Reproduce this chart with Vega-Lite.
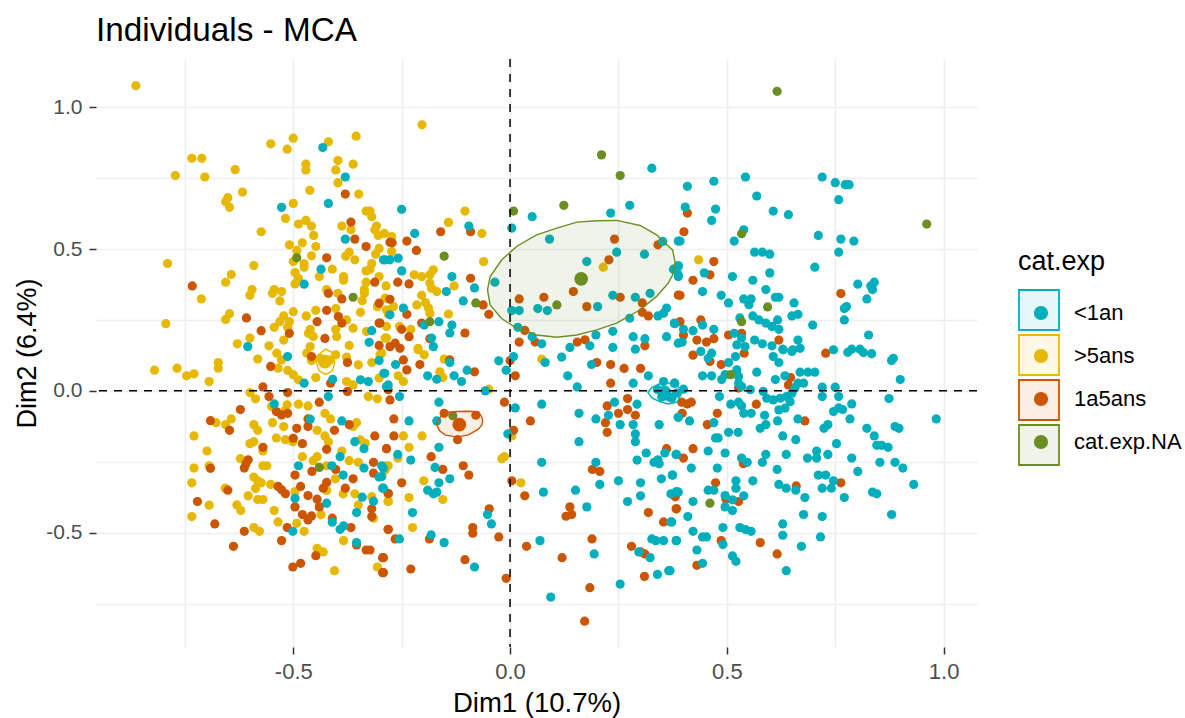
{"$schema":"https://vega.github.io/schema/vega-lite/v6.json","width":881,"height":588,"autosize":"none","padding":{"left":96,"top":59,"right":208,"bottom":71},"background":"white",
"title":{"text":"Individuals - MCA","anchor":"start","frame":"group","font":"Liberation Sans","fontSize":33.3,"fontWeight":"normal","color":"#000000","offset":10},
"config":{"view":{"stroke":null},"font":"Liberation Sans"},
"layer":[
{"data":{"values":[
{"x":-0.863,"y":1.076,"c":">5ans"},{"x":-0.552,"y":0.871,"c":">5ans"},{"x":-0.5,"y":0.891,"c":">5ans"},{"x":-0.514,"y":0.852,"c":">5ans"},{"x":-0.419,"y":0.878,"c":">5ans"},{"x":-0.355,"y":0.898,"c":">5ans"},{"x":-0.734,"y":0.82,"c":">5ans"},{"x":-0.711,"y":0.82,"c":">5ans"},{"x":-0.634,"y":0.78,"c":">5ans"},{"x":-0.772,"y":0.759,"c":">5ans"},{"x":-0.704,"y":0.754,"c":">5ans"},{"x":-0.471,"y":0.799,"c":">5ans"},{"x":-0.471,"y":0.779,"c":">5ans"},{"x":-0.397,"y":0.812,"c":">5ans"},{"x":-0.402,"y":0.779,"c":">5ans"},{"x":-0.362,"y":0.799,"c":">5ans"},{"x":-0.397,"y":0.734,"c":">5ans"},{"x":-0.617,"y":0.701,"c":">5ans"},{"x":-0.651,"y":0.681,"c":">5ans"},{"x":-0.656,"y":0.667,"c":">5ans"},{"x":-0.647,"y":0.647,"c":">5ans"},{"x":-0.462,"y":0.707,"c":">5ans"},{"x":-0.349,"y":0.694,"c":">5ans"},{"x":-0.5,"y":0.661,"c":">5ans"},{"x":-0.518,"y":0.608,"c":">5ans"},{"x":-0.574,"y":0.561,"c":">5ans"},{"x":-0.488,"y":0.588,"c":">5ans"},{"x":-0.471,"y":0.601,"c":">5ans"},{"x":-0.458,"y":0.581,"c":">5ans"},{"x":-0.453,"y":0.548,"c":">5ans"},{"x":-0.388,"y":0.581,"c":">5ans"},{"x":-0.367,"y":0.568,"c":">5ans"},{"x":-0.332,"y":0.634,"c":">5ans"},{"x":-0.323,"y":0.634,"c":">5ans"},{"x":-0.319,"y":0.614,"c":">5ans"},{"x":-0.308,"y":0.581,"c":">5ans"},{"x":-0.312,"y":0.568,"c":">5ans"},{"x":-0.29,"y":0.555,"c":">5ans"},{"x":-0.304,"y":0.548,"c":">5ans"},{"x":-0.479,"y":0.522,"c":">5ans"},{"x":-0.509,"y":0.515,"c":">5ans"},{"x":-0.448,"y":0.509,"c":">5ans"},{"x":-0.458,"y":0.476,"c":">5ans"},{"x":-0.492,"y":0.495,"c":">5ans"},{"x":-0.371,"y":0.489,"c":">5ans"},{"x":-0.379,"y":0.475,"c":">5ans"},{"x":-0.358,"y":0.462,"c":">5ans"},{"x":-0.302,"y":0.502,"c":">5ans"},{"x":-0.31,"y":0.482,"c":">5ans"},{"x":-0.319,"y":0.449,"c":">5ans"},{"x":-0.332,"y":0.423,"c":">5ans"},{"x":-0.323,"y":0.429,"c":">5ans"},{"x":-0.79,"y":0.449,"c":">5ans"},{"x":-0.591,"y":0.442,"c":">5ans"},{"x":-0.5,"y":0.456,"c":">5ans"},{"x":-0.475,"y":0.449,"c":">5ans"},{"x":-0.475,"y":0.436,"c":">5ans"},{"x":-0.496,"y":0.417,"c":">5ans"},{"x":-0.488,"y":0.397,"c":">5ans"},{"x":-0.496,"y":0.377,"c":">5ans"},{"x":-0.41,"y":0.429,"c":">5ans"},{"x":-0.44,"y":0.403,"c":">5ans"},{"x":-0.384,"y":0.403,"c":">5ans"},{"x":-0.384,"y":0.39,"c":">5ans"},{"x":-0.643,"y":0.41,"c":">5ans"},{"x":-0.656,"y":0.383,"c":">5ans"},{"x":-0.302,"y":0.403,"c":">5ans"},{"x":-0.332,"y":0.383,"c":">5ans"},{"x":-0.336,"y":0.357,"c":">5ans"},{"x":-0.336,"y":0.344,"c":">5ans"},{"x":-0.286,"y":0.37,"c":">5ans"},{"x":-0.423,"y":0.357,"c":">5ans"},{"x":-0.397,"y":0.344,"c":">5ans"},{"x":-0.341,"y":0.318,"c":">5ans"},{"x":-0.595,"y":0.357,"c":">5ans"},{"x":-0.6,"y":0.337,"c":">5ans"},{"x":-0.544,"y":0.357,"c":">5ans"},{"x":-0.527,"y":0.35,"c":">5ans"},{"x":-0.548,"y":0.344,"c":">5ans"},{"x":-0.531,"y":0.317,"c":">5ans"},{"x":-0.712,"y":0.324,"c":">5ans"},{"x":-0.288,"y":0.327,"c":">5ans"},{"x":-0.306,"y":0.297,"c":">5ans"},{"x":-0.285,"y":0.286,"c":">5ans"},{"x":-0.5,"y":0.279,"c":">5ans"},{"x":-0.647,"y":0.272,"c":">5ans"},{"x":-0.656,"y":0.252,"c":">5ans"},{"x":-0.522,"y":0.264,"c":">5ans"},{"x":-0.47,"y":0.264,"c":">5ans"},{"x":-0.448,"y":0.284,"c":">5ans"},{"x":-0.402,"y":0.29,"c":">5ans"},{"x":-0.345,"y":0.277,"c":">5ans"},{"x":-0.794,"y":0.237,"c":">5ans"},{"x":-0.531,"y":0.244,"c":">5ans"},{"x":-0.509,"y":0.244,"c":">5ans"},{"x":-0.513,"y":0.224,"c":">5ans"},{"x":-0.544,"y":0.224,"c":">5ans"},{"x":-0.461,"y":0.217,"c":">5ans"},{"x":-0.454,"y":0.192,"c":">5ans"},{"x":-0.465,"y":0.203,"c":">5ans"},{"x":-0.402,"y":0.217,"c":">5ans"},{"x":-0.377,"y":0.25,"c":">5ans"},{"x":-0.362,"y":0.221,"c":">5ans"},{"x":-0.331,"y":0.209,"c":">5ans"},{"x":-0.4,"y":0.192,"c":">5ans"},{"x":-0.6,"y":0.186,"c":">5ans"},{"x":-0.629,"y":0.166,"c":">5ans"},{"x":-0.556,"y":0.159,"c":">5ans"},{"x":-0.522,"y":0.179,"c":">5ans"},{"x":-0.461,"y":0.156,"c":">5ans"},{"x":-0.371,"y":0.16,"c":">5ans"},{"x":-0.285,"y":0.186,"c":">5ans"},
{"x":-0.582,"y":0.112,"c":">5ans"},{"x":-0.538,"y":0.133,"c":">5ans"},{"x":-0.527,"y":0.109,"c":">5ans"},{"x":-0.535,"y":0.08,"c":">5ans"},{"x":-0.513,"y":0.072,"c":">5ans"},{"x":-0.5,"y":0.057,"c":">5ans"},{"x":-0.488,"y":0.039,"c":">5ans"},{"x":-0.448,"y":0.047,"c":">5ans"},{"x":-0.82,"y":0.073,"c":">5ans"},{"x":-0.768,"y":0.08,"c":">5ans"},{"x":-0.746,"y":0.053,"c":">5ans"},{"x":-0.729,"y":0.06,"c":">5ans"},{"x":-0.673,"y":0.1,"c":">5ans"},{"x":-0.673,"y":0.08,"c":">5ans"},{"x":-0.694,"y":0.033,"c":">5ans"},{"x":-0.469,"y":0.133,"c":">5ans"},{"x":-0.458,"y":0.107,"c":">5ans"},{"x":-0.438,"y":0.115,"c":">5ans"},{"x":-0.427,"y":0.098,"c":">5ans"},{"x":-0.415,"y":0.109,"c":">5ans"},{"x":-0.402,"y":0.127,"c":">5ans"},{"x":-0.377,"y":0.119,"c":">5ans"},{"x":-0.35,"y":0.092,"c":">5ans"},{"x":-0.319,"y":0.1,"c":">5ans"},{"x":-0.3,"y":0.127,"c":">5ans"},{"x":-0.302,"y":0.045,"c":">5ans"},{"x":-0.377,"y":0.033,"c":">5ans"},{"x":-0.362,"y":0.021,"c":">5ans"},{"x":-0.327,"y":-0.02,"c":">5ans"},{"x":-0.306,"y":-0.028,"c":">5ans"},{"x":-0.6,"y":-0.006,"c":">5ans"},{"x":-0.587,"y":-0.028,"c":">5ans"},{"x":-0.55,"y":-0.055,"c":">5ans"},{"x":-0.514,"y":-0.049,"c":">5ans"},{"x":-0.519,"y":-0.069,"c":">5ans"},{"x":-0.488,"y":-0.047,"c":">5ans"},{"x":-0.466,"y":-0.053,"c":">5ans"},{"x":-0.643,"y":-0.099,"c":">5ans"},{"x":-0.656,"y":-0.119,"c":">5ans"},{"x":-0.678,"y":-0.112,"c":">5ans"},{"x":-0.548,"y":-0.112,"c":">5ans"},{"x":-0.591,"y":-0.119,"c":">5ans"},{"x":-0.582,"y":-0.139,"c":">5ans"},{"x":-0.522,"y":-0.126,"c":">5ans"},{"x":-0.427,"y":-0.079,"c":">5ans"},{"x":-0.414,"y":-0.099,"c":">5ans"},{"x":-0.445,"y":-0.139,"c":">5ans"},{"x":-0.427,"y":-0.159,"c":">5ans"},{"x":-0.419,"y":-0.179,"c":">5ans"},{"x":-0.354,"y":-0.112,"c":">5ans"},{"x":-0.362,"y":-0.126,"c":">5ans"},{"x":-0.729,"y":-0.159,"c":">5ans"},{"x":-0.539,"y":-0.166,"c":">5ans"},{"x":-0.518,"y":-0.172,"c":">5ans"},{"x":-0.501,"y":-0.179,"c":">5ans"},{"x":-0.591,"y":-0.179,"c":">5ans"},{"x":-0.6,"y":-0.186,"c":">5ans"},{"x":-0.699,"y":-0.212,"c":">5ans"},{"x":-0.57,"y":-0.212,"c":">5ans"},{"x":-0.622,"y":-0.239,"c":">5ans"},{"x":-0.479,"y":-0.232,"c":">5ans"},{"x":-0.445,"y":-0.232,"c":">5ans"},{"x":-0.454,"y":-0.246,"c":">5ans"},{"x":-0.388,"y":-0.212,"c":">5ans"},{"x":-0.371,"y":-0.246,"c":">5ans"},{"x":-0.35,"y":-0.252,"c":">5ans"},{"x":-0.345,"y":-0.173,"c":">5ans"},{"x":-0.334,"y":-0.185,"c":">5ans"},{"x":-0.729,"y":-0.272,"c":">5ans"},{"x":-0.694,"y":-0.264,"c":">5ans"},{"x":-0.57,"y":-0.264,"c":">5ans"},{"x":-0.561,"y":-0.264,"c":">5ans"},{"x":-0.423,"y":-0.264,"c":">5ans"},{"x":-0.734,"y":-0.324,"c":">5ans"},{"x":-0.591,"y":-0.304,"c":">5ans"},{"x":-0.582,"y":-0.317,"c":">5ans"},{"x":-0.574,"y":-0.324,"c":">5ans"},{"x":-0.587,"y":-0.344,"c":">5ans"},{"x":-0.552,"y":-0.33,"c":">5ans"},{"x":-0.403,"y":-0.31,"c":">5ans"},{"x":-0.657,"y":-0.343,"c":">5ans"},{"x":-0.604,"y":-0.37,"c":">5ans"},{"x":-0.582,"y":-0.383,"c":">5ans"},{"x":-0.57,"y":-0.383,"c":">5ans"},{"x":-0.694,"y":-0.403,"c":">5ans"},{"x":-0.63,"y":-0.402,"c":">5ans"},{"x":-0.621,"y":-0.422,"c":">5ans"},{"x":-0.544,"y":-0.422,"c":">5ans"},{"x":-0.496,"y":-0.355,"c":">5ans"},{"x":-0.423,"y":-0.351,"c":">5ans"},{"x":-0.385,"y":-0.363,"c":">5ans"},{"x":-0.358,"y":-0.363,"c":">5ans"},{"x":-0.35,"y":-0.402,"c":">5ans"},{"x":-0.319,"y":-0.373,"c":">5ans"},{"x":-0.285,"y":-0.264,"c":">5ans"},{"x":-0.281,"y":-0.39,"c":">5ans"},{"x":-0.734,"y":-0.443,"c":">5ans"},{"x":-0.535,"y":-0.462,"c":">5ans"},{"x":-0.492,"y":-0.467,"c":">5ans"},{"x":-0.436,"y":-0.437,"c":">5ans"},{"x":-0.315,"y":-0.449,"c":">5ans"},{"x":-0.591,"y":-0.482,"c":">5ans"},{"x":-0.578,"y":-0.495,"c":">5ans"},{"x":-0.475,"y":-0.495,"c":">5ans"},{"x":-0.384,"y":-0.528,"c":">5ans"},{"x":-0.445,"y":-0.555,"c":">5ans"},{"x":-0.431,"y":-0.568,"c":">5ans"},{"x":-0.405,"y":-0.634,"c":">5ans"},{"x":-0.306,"y":-0.621,"c":">5ans"},
{"x":-0.203,"y":0.938,"c":">5ans"},{"x":-0.104,"y":0.634,"c":">5ans"},{"x":-0.142,"y":0.594,"c":">5ans"},{"x":-0.065,"y":0.555,"c":">5ans"},{"x":-0.273,"y":0.544,"c":">5ans"},{"x":-0.273,"y":0.491,"c":">5ans"},{"x":-0.061,"y":0.456,"c":">5ans"},{"x":-0.177,"y":0.427,"c":">5ans"},{"x":-0.185,"y":0.409,"c":">5ans"},{"x":-0.221,"y":0.409,"c":">5ans"},{"x":-0.204,"y":0.403,"c":">5ans"},{"x":-0.185,"y":0.38,"c":">5ans"},{"x":-0.181,"y":0.362,"c":">5ans"},{"x":-0.169,"y":0.35,"c":">5ans"},{"x":-0.129,"y":0.37,"c":">5ans"},{"x":-0.204,"y":0.337,"c":">5ans"},{"x":-0.195,"y":0.311,"c":">5ans"},{"x":-0.215,"y":0.303,"c":">5ans"},{"x":-0.188,"y":0.292,"c":">5ans"},{"x":-0.185,"y":0.274,"c":">5ans"},{"x":-0.142,"y":0.271,"c":">5ans"},{"x":-0.269,"y":0.297,"c":">5ans"},{"x":-0.281,"y":0.271,"c":">5ans"},{"x":-0.229,"y":0.217,"c":">5ans"},{"x":-0.255,"y":0.227,"c":">5ans"},{"x":-0.285,"y":0.227,"c":">5ans"},{"x":-0.288,"y":0.186,"c":">5ans"},{"x":-0.212,"y":0.15,"c":">5ans"},{"x":0.215,"y":0.436,"c":">5ans"},
{"x":-0.212,"y":0.145,"c":">5ans"},{"x":-0.198,"y":0.127,"c":">5ans"},{"x":-0.152,"y":0.112,"c":">5ans"},{"x":0.073,"y":0.112,"c":">5ans"},{"x":-0.162,"y":0.067,"c":">5ans"},{"x":-0.155,"y":0.047,"c":">5ans"},{"x":-0.258,"y":0.053,"c":">5ans"},{"x":-0.246,"y":0.033,"c":">5ans"},{"x":-0.296,"y":0.133,"c":">5ans"},{"x":-0.049,"y":0.006,"c":">5ans"},{"x":-0.246,"y":-0.159,"c":">5ans"},{"x":-0.203,"y":-0.159,"c":">5ans"},{"x":0.004,"y":-0.159,"c":">5ans"},{"x":-0.233,"y":-0.199,"c":">5ans"},{"x":-0.259,"y":-0.237,"c":">5ans"},{"x":-0.013,"y":-0.232,"c":">5ans"},{"x":-0.019,"y":-0.239,"c":">5ans"},{"x":-0.281,"y":-0.264,"c":">5ans"},{"x":-0.288,"y":-0.279,"c":">5ans"},{"x":-0.199,"y":-0.317,"c":">5ans"},{"x":0.025,"y":-0.324,"c":">5ans"},{"x":-0.233,"y":-0.376,"c":">5ans"},{"x":-0.281,"y":-0.39,"c":">5ans"},{"x":-0.155,"y":-0.383,"c":">5ans"},{"x":-0.225,"y":-0.482,"c":">5ans"},{"x":0.435,"y":0.462,"c":">5ans"},
{"x":-0.38,"y":0.694,"c":"1a5ans"},{"x":-0.367,"y":0.595,"c":"1a5ans"},{"x":-0.358,"y":0.535,"c":"1a5ans"},{"x":-0.332,"y":0.509,"c":"1a5ans"},{"x":-0.423,"y":0.469,"c":"1a5ans"},{"x":-0.733,"y":0.37,"c":"1a5ans"},{"x":-0.312,"y":0.383,"c":"1a5ans"},{"x":-0.419,"y":0.344,"c":"1a5ans"},{"x":-0.388,"y":0.324,"c":"1a5ans"},{"x":-0.302,"y":0.309,"c":"1a5ans"},{"x":-0.423,"y":0.284,"c":"1a5ans"},{"x":-0.608,"y":0.257,"c":"1a5ans"},{"x":-0.445,"y":0.244,"c":"1a5ans"},{"x":-0.396,"y":0.262,"c":"1a5ans"},{"x":-0.388,"y":0.239,"c":"1a5ans"},{"x":-0.574,"y":0.212,"c":"1a5ans"},{"x":-0.509,"y":0.203,"c":"1a5ans"},{"x":-0.427,"y":0.185,"c":"1a5ans"},{"x":-0.302,"y":0.239,"c":"1a5ans"},{"x":-0.302,"y":0.16,"c":"1a5ans"},{"x":-0.277,"y":0.524,"c":"1a5ans"},
{"x":-0.552,"y":0.086,"c":"1a5ans"},{"x":-0.458,"y":0.121,"c":"1a5ans"},{"x":-0.375,"y":0.1,"c":"1a5ans"},{"x":-0.414,"y":0.027,"c":"1a5ans"},{"x":-0.375,"y":-0.002,"c":"1a5ans"},{"x":-0.513,"y":-0.006,"c":"1a5ans"},{"x":-0.57,"y":0.014,"c":"1a5ans"},{"x":-0.556,"y":-0.02,"c":"1a5ans"},{"x":-0.622,"y":-0.066,"c":"1a5ans"},{"x":-0.539,"y":-0.073,"c":"1a5ans"},{"x":-0.527,"y":-0.085,"c":"1a5ans"},{"x":-0.513,"y":-0.079,"c":"1a5ans"},{"x":-0.44,"y":-0.04,"c":"1a5ans"},{"x":-0.691,"y":-0.105,"c":"1a5ans"},{"x":-0.647,"y":-0.139,"c":"1a5ans"},{"x":-0.466,"y":-0.099,"c":"1a5ans"},{"x":-0.466,"y":-0.126,"c":"1a5ans"},{"x":-0.492,"y":-0.132,"c":"1a5ans"},{"x":-0.405,"y":-0.139,"c":"1a5ans"},{"x":-0.371,"y":-0.119,"c":"1a5ans"},{"x":-0.312,"y":-0.159,"c":"1a5ans"},{"x":-0.5,"y":-0.167,"c":"1a5ans"},{"x":-0.479,"y":-0.186,"c":"1a5ans"},{"x":-0.57,"y":-0.199,"c":"1a5ans"},{"x":-0.423,"y":-0.206,"c":"1a5ans"},{"x":-0.285,"y":-0.204,"c":"1a5ans"},{"x":-0.604,"y":-0.243,"c":"1a5ans"},{"x":-0.609,"y":-0.257,"c":"1a5ans"},{"x":-0.613,"y":-0.272,"c":"1a5ans"},{"x":-0.691,"y":-0.273,"c":"1a5ans"},{"x":-0.457,"y":-0.284,"c":"1a5ans"},{"x":-0.496,"y":-0.297,"c":"1a5ans"},{"x":-0.402,"y":-0.277,"c":"1a5ans"},{"x":-0.315,"y":-0.252,"c":"1a5ans"},{"x":-0.315,"y":-0.29,"c":"1a5ans"},{"x":-0.362,"y":-0.31,"c":"1a5ans"},{"x":-0.483,"y":-0.337,"c":"1a5ans"},{"x":-0.535,"y":-0.337,"c":"1a5ans"},{"x":-0.527,"y":-0.349,"c":"1a5ans"},{"x":-0.518,"y":-0.363,"c":"1a5ans"},{"x":-0.466,"y":-0.369,"c":"1a5ans"},{"x":-0.445,"y":-0.382,"c":"1a5ans"},{"x":-0.423,"y":-0.323,"c":"1a5ans"},{"x":-0.431,"y":-0.343,"c":"1a5ans"},{"x":-0.38,"y":-0.343,"c":"1a5ans"},{"x":-0.651,"y":-0.35,"c":"1a5ans"},{"x":-0.281,"y":-0.361,"c":"1a5ans"},{"x":-0.721,"y":-0.39,"c":"1a5ans"},{"x":-0.44,"y":-0.409,"c":"1a5ans"},{"x":-0.496,"y":-0.409,"c":"1a5ans"},{"x":-0.479,"y":-0.436,"c":"1a5ans"},{"x":-0.466,"y":-0.455,"c":"1a5ans"},{"x":-0.458,"y":-0.441,"c":"1a5ans"},{"x":-0.41,"y":-0.449,"c":"1a5ans"},{"x":-0.319,"y":-0.416,"c":"1a5ans"},{"x":-0.319,"y":-0.443,"c":"1a5ans"},{"x":-0.681,"y":-0.469,"c":"1a5ans"},{"x":-0.613,"y":-0.495,"c":"1a5ans"},{"x":-0.514,"y":-0.482,"c":"1a5ans"},{"x":-0.367,"y":-0.482,"c":"1a5ans"},{"x":-0.281,"y":-0.488,"c":"1a5ans"},{"x":-0.527,"y":-0.528,"c":"1a5ans"},{"x":-0.638,"y":-0.548,"c":"1a5ans"},{"x":-0.354,"y":-0.543,"c":"1a5ans"},{"x":-0.332,"y":-0.561,"c":"1a5ans"},{"x":-0.323,"y":-0.561,"c":"1a5ans"},{"x":-0.448,"y":-0.581,"c":"1a5ans"},{"x":-0.294,"y":-0.588,"c":"1a5ans"},{"x":-0.483,"y":-0.608,"c":"1a5ans"},{"x":-0.501,"y":-0.621,"c":"1a5ans"},{"x":-0.294,"y":-0.641,"c":"1a5ans"},
{"x":-0.16,"y":0.561,"c":"1a5ans"},{"x":-0.091,"y":0.561,"c":"1a5ans"},{"x":-0.238,"y":0.528,"c":"1a5ans"},{"x":-0.272,"y":0.522,"c":"1a5ans"},{"x":-0.216,"y":0.495,"c":"1a5ans"},{"x":-0.259,"y":0.383,"c":"1a5ans"},{"x":-0.233,"y":0.377,"c":"1a5ans"},{"x":-0.091,"y":0.397,"c":"1a5ans"},{"x":-0.277,"y":0.323,"c":"1a5ans"},{"x":-0.062,"y":0.303,"c":"1a5ans"},{"x":-0.049,"y":0.27,"c":"1a5ans"},{"x":-0.238,"y":0.27,"c":"1a5ans"},{"x":-0.3,"y":0.239,"c":"1a5ans"},{"x":-0.25,"y":0.217,"c":"1a5ans"},{"x":-0.233,"y":0.191,"c":"1a5ans"},{"x":-0.185,"y":0.184,"c":"1a5ans"},{"x":-0.104,"y":0.204,"c":"1a5ans"},{"x":-0.204,"y":0.239,"c":"1a5ans"},{"x":-0.265,"y":0.168,"c":"1a5ans"},{"x":-0.277,"y":0.156,"c":"1a5ans"},{"x":-0.254,"y":0.15,"c":"1a5ans"},{"x":0.241,"y":0.535,"c":"1a5ans"},{"x":0.341,"y":0.515,"c":"1a5ans"},{"x":0.228,"y":0.462,"c":"1a5ans"},{"x":0.146,"y":0.35,"c":"1a5ans"},{"x":0.078,"y":0.33,"c":"1a5ans"},{"x":0.021,"y":0.324,"c":"1a5ans"},{"x":0.177,"y":0.297,"c":"1a5ans"},{"x":0.254,"y":0.33,"c":"1a5ans"},{"x":0.305,"y":0.31,"c":"1a5ans"},{"x":0.305,"y":0.277,"c":"1a5ans"},{"x":0.319,"y":0.264,"c":"1a5ans"},{"x":0.034,"y":0.213,"c":"1a5ans"},{"x":0.021,"y":0.172,"c":"1a5ans"},{"x":0.058,"y":0.172,"c":"1a5ans"},{"x":0.155,"y":0.172,"c":"1a5ans"},{"x":0.173,"y":0.18,"c":"1a5ans"},{"x":0.311,"y":0.159,"c":"1a5ans"},{"x":0.388,"y":0.338,"c":"1a5ans"},
{"x":0,"y":0.107,"c":"1a5ans"},{"x":0.2,"y":0.1,"c":"1a5ans"},{"x":0.232,"y":0.093,"c":"1a5ans"},{"x":0.263,"y":0.079,"c":"1a5ans"},{"x":0.301,"y":0.079,"c":"1a5ans"},{"x":0.012,"y":0.053,"c":"1a5ans"},{"x":0.232,"y":0.027,"c":"1a5ans"},{"x":-0.082,"y":0.067,"c":"1a5ans"},{"x":-0.208,"y":0.093,"c":"1a5ans"},{"x":-0.246,"y":0.109,"c":"1a5ans"},{"x":-0.238,"y":0.074,"c":"1a5ans"},{"x":-0.139,"y":0.109,"c":"1a5ans"},{"x":-0.281,"y":0.004,"c":"1a5ans"},{"x":-0.277,"y":-0.032,"c":"1a5ans"},{"x":-0.013,"y":-0.04,"c":"1a5ans"},{"x":0.271,"y":-0.027,"c":"1a5ans"},{"x":0.224,"y":-0.053,"c":"1a5ans"},{"x":0.271,"y":-0.066,"c":"1a5ans"},{"x":0.25,"y":-0.079,"c":"1a5ans"},{"x":0.289,"y":-0.086,"c":"1a5ans"},{"x":0.22,"y":-0.112,"c":"1a5ans"},{"x":0.224,"y":-0.146,"c":"1a5ans"},{"x":0.047,"y":-0.106,"c":"1a5ans"},{"x":0.008,"y":-0.139,"c":"1a5ans"},{"x":-0.268,"y":-0.099,"c":"1a5ans"},{"x":-0.268,"y":-0.159,"c":"1a5ans"},{"x":-0.285,"y":-0.204,"c":"1a5ans"},{"x":-0.121,"y":-0.172,"c":"1a5ans"},{"x":-0.152,"y":-0.079,"c":"1a5ans"},{"x":-0.079,"y":-0.086,"c":"1a5ans"},{"x":0.361,"y":-0.204,"c":"1a5ans"},{"x":-0.182,"y":-0.232,"c":"1a5ans"},{"x":-0.108,"y":-0.264,"c":"1a5ans"},{"x":-0.155,"y":-0.277,"c":"1a5ans"},{"x":-0.095,"y":-0.297,"c":"1a5ans"},{"x":0.19,"y":-0.277,"c":"1a5ans"},{"x":0.207,"y":-0.284,"c":"1a5ans"},{"x":0.004,"y":-0.317,"c":"1a5ans"},{"x":-0.25,"y":-0.324,"c":"1a5ans"},{"x":-0.281,"y":-0.363,"c":"1a5ans"},{"x":0.034,"y":-0.37,"c":"1a5ans"},{"x":0.38,"y":-0.37,"c":"1a5ans"},{"x":0.138,"y":-0.409,"c":"1a5ans"},{"x":0.142,"y":-0.436,"c":"1a5ans"},{"x":0.129,"y":-0.442,"c":"1a5ans"},{"x":-0.048,"y":-0.416,"c":"1a5ans"},{"x":0.319,"y":-0.429,"c":"1a5ans"},{"x":0.383,"y":-0.416,"c":"1a5ans"},{"x":0.354,"y":-0.462,"c":"1a5ans"},{"x":-0.281,"y":-0.489,"c":"1a5ans"},{"x":-0.086,"y":-0.482,"c":"1a5ans"},{"x":-0.086,"y":-0.502,"c":"1a5ans"},{"x":-0.186,"y":-0.522,"c":"1a5ans"},{"x":-0.265,"y":-0.522,"c":"1a5ans"},{"x":-0.026,"y":-0.515,"c":"1a5ans"},{"x":0.189,"y":-0.522,"c":"1a5ans"},{"x":0.038,"y":-0.548,"c":"1a5ans"},{"x":0.28,"y":-0.548,"c":"1a5ans"},{"x":0.301,"y":-0.568,"c":"1a5ans"},{"x":0.311,"y":-0.575,"c":"1a5ans"},{"x":0.12,"y":-0.588,"c":"1a5ans"},{"x":-0.104,"y":-0.595,"c":"1a5ans"},{"x":-0.292,"y":-0.588,"c":"1a5ans"},{"x":-0.229,"y":-0.628,"c":"1a5ans"},{"x":-0.292,"y":-0.641,"c":"1a5ans"},{"x":0.31,"y":-0.654,"c":"1a5ans"},{"x":-0.009,"y":-0.661,"c":"1a5ans"},{"x":0.184,"y":-0.694,"c":"1a5ans"},{"x":0.172,"y":-0.812,"c":"1a5ans"},
{"x":0.409,"y":0.627,"c":"1a5ans"},{"x":0.401,"y":0.561,"c":"1a5ans"},{"x":0.47,"y":0.456,"c":"1a5ans"},{"x":0.461,"y":0.409,"c":"1a5ans"},{"x":0.422,"y":0.39,"c":"1a5ans"},{"x":0.392,"y":0.337,"c":"1a5ans"},{"x":0.763,"y":0.343,"c":"1a5ans"},{"x":0.392,"y":0.244,"c":"1a5ans"},{"x":0.44,"y":0.25,"c":"1a5ans"},{"x":0.4,"y":0.197,"c":"1a5ans"},{"x":0.431,"y":0.179,"c":"1a5ans"},{"x":0.453,"y":0.172,"c":"1a5ans"},{"x":0.47,"y":0.184,"c":"1a5ans"},{"x":0.504,"y":0.197,"c":"1a5ans"},{"x":0.534,"y":0.203,"c":"1a5ans"},{"x":0.62,"y":0.179,"c":"1a5ans"},{"x":0.422,"y":0.126,"c":"1a5ans"},{"x":0.461,"y":0.104,"c":"1a5ans"},{"x":0.487,"y":0.093,"c":"1a5ans"},{"x":0.54,"y":0.133,"c":"1a5ans"},{"x":0.728,"y":0.133,"c":"1a5ans"},{"x":0.647,"y":0.047,"c":"1a5ans"},{"x":0.642,"y":0.021,"c":"1a5ans"},{"x":0.527,"y":0.01,"c":"1a5ans"},{"x":0.568,"y":-0.047,"c":"1a5ans"},{"x":0.396,"y":-0.04,"c":"1a5ans"},{"x":0.409,"y":-0.046,"c":"1a5ans"},{"x":0.418,"y":-0.04,"c":"1a5ans"},{"x":0.397,"y":-0.079,"c":"1a5ans"},{"x":0.478,"y":-0.079,"c":"1a5ans"},{"x":0.455,"y":-0.119,"c":"1a5ans"},{"x":0.68,"y":-0.106,"c":"1a5ans"},{"x":0.422,"y":-0.204,"c":"1a5ans"},{"x":0.4,"y":-0.237,"c":"1a5ans"},{"x":0.538,"y":-0.257,"c":"1a5ans"},{"x":0.474,"y":-0.324,"c":"1a5ans"},{"x":0.66,"y":-0.335,"c":"1a5ans"},{"x":0.763,"y":-0.324,"c":"1a5ans"},{"x":0.381,"y":-0.373,"c":"1a5ans"},{"x":0.498,"y":-0.382,"c":"1a5ans"},{"x":0.527,"y":-0.39,"c":"1a5ans"},{"x":0.384,"y":-0.416,"c":"1a5ans"},{"x":0.487,"y":-0.528,"c":"1a5ans"},{"x":0.577,"y":-0.535,"c":"1a5ans"},{"x":0.616,"y":-0.575,"c":"1a5ans"},{"x":0.431,"y":-0.615,"c":"1a5ans"},
{"x":-0.432,"y":0.858,"c":"<1an"},{"x":-0.38,"y":0.754,"c":"<1an"},{"x":-0.419,"y":0.661,"c":"<1an"},{"x":-0.527,"y":0.647,"c":"<1an"},{"x":-0.38,"y":0.535,"c":"<1an"},{"x":-0.288,"y":0.462,"c":"<1an"},{"x":-0.436,"y":0.429,"c":"<1an"},{"x":-0.475,"y":0.376,"c":"<1an"},{"x":-0.319,"y":0.212,"c":"<1an"},{"x":-0.325,"y":0.171,"c":"<1an"},{"x":-0.605,"y":0.156,"c":"<1an"},{"x":-0.513,"y":0.121,"c":"<1an"},{"x":-0.302,"y":0.107,"c":"<1an"},{"x":-0.289,"y":0.062,"c":"<1an"},{"x":-0.409,"y":0.041,"c":"<1an"},{"x":-0.475,"y":0.027,"c":"<1an"},{"x":-0.345,"y":0.039,"c":"<1an"},{"x":-0.327,"y":0.033,"c":"<1an"},{"x":-0.285,"y":0.015,"c":"<1an"},{"x":-0.419,"y":-0.02,"c":"<1an"},{"x":-0.544,"y":-0.046,"c":"<1an"},{"x":-0.388,"y":-0.106,"c":"<1an"},{"x":-0.461,"y":-0.1,"c":"<1an"},{"x":-0.358,"y":-0.179,"c":"<1an"},{"x":-0.337,"y":-0.204,"c":"<1an"},{"x":-0.392,"y":-0.232,"c":"<1an"},{"x":-0.488,"y":-0.264,"c":"<1an"},{"x":-0.411,"y":-0.264,"c":"<1an"},{"x":-0.337,"y":-0.272,"c":"<1an"},{"x":-0.385,"y":-0.297,"c":"<1an"},{"x":-0.296,"y":-0.264,"c":"<1an"},{"x":-0.302,"y":-0.304,"c":"<1an"},{"x":-0.294,"y":-0.343,"c":"<1an"},{"x":-0.496,"y":-0.379,"c":"<1an"},{"x":-0.423,"y":-0.396,"c":"<1an"},{"x":-0.341,"y":-0.375,"c":"<1an"},{"x":-0.315,"y":-0.389,"c":"<1an"},{"x":-0.354,"y":-0.429,"c":"<1an"},{"x":-0.41,"y":-0.463,"c":"<1an"},{"x":-0.384,"y":-0.476,"c":"<1an"},{"x":-0.392,"y":-0.488,"c":"<1an"},{"x":-0.501,"y":-0.495,"c":"<1an"},{"x":-0.354,"y":-0.535,"c":"<1an"},
{"x":-0.25,"y":0.64,"c":"<1an"},{"x":-0.095,"y":0.581,"c":"<1an"},{"x":-0.22,"y":0.555,"c":"<1an"},{"x":0.004,"y":0.574,"c":"<1an"},{"x":0.051,"y":0.614,"c":"<1an"},{"x":0.232,"y":0.627,"c":"<1an"},{"x":0.276,"y":0.654,"c":"<1an"},{"x":0.327,"y":0.785,"c":"<1an"},{"x":0.091,"y":0.535,"c":"<1an"},{"x":0.246,"y":0.489,"c":"<1an"},{"x":0.177,"y":0.456,"c":"<1an"},{"x":0.31,"y":0.482,"c":"<1an"},{"x":0.352,"y":0.527,"c":"<1an"},{"x":0.388,"y":0.528,"c":"<1an"},{"x":0.377,"y":0.429,"c":"<1an"},{"x":0.388,"y":0.438,"c":"<1an"},{"x":0.388,"y":0.403,"c":"<1an"},{"x":-0.292,"y":0.462,"c":"<1an"},{"x":-0.277,"y":0.462,"c":"<1an"},{"x":-0.258,"y":0.468,"c":"<1an"},{"x":-0.25,"y":0.423,"c":"<1an"},{"x":-0.134,"y":0.403,"c":"<1an"},{"x":-0.082,"y":0.363,"c":"<1an"},{"x":-0.147,"y":0.35,"c":"<1an"},{"x":-0.035,"y":0.383,"c":"<1an"},{"x":-0.108,"y":0.317,"c":"<1an"},{"x":-0.246,"y":0.292,"c":"<1an"},{"x":-0.277,"y":0.268,"c":"<1an"},{"x":0.004,"y":0.283,"c":"<1an"},{"x":0.021,"y":0.283,"c":"<1an"},{"x":0.064,"y":0.29,"c":"<1an"},{"x":0.086,"y":0.283,"c":"<1an"},{"x":0.202,"y":0.297,"c":"<1an"},{"x":0.237,"y":0.337,"c":"<1an"},{"x":0.289,"y":0.33,"c":"<1an"},{"x":0.323,"y":0.344,"c":"<1an"},{"x":0.361,"y":0.292,"c":"<1an"},{"x":0.354,"y":0.274,"c":"<1an"},{"x":0.341,"y":0.264,"c":"<1an"},{"x":0.276,"y":0.256,"c":"<1an"},{"x":0.379,"y":0.239,"c":"<1an"},{"x":-0.198,"y":0.232,"c":"<1an"},{"x":-0.164,"y":0.244,"c":"<1an"},{"x":-0.134,"y":0.232,"c":"<1an"},{"x":-0.139,"y":0.204,"c":"<1an"},{"x":-0.181,"y":0.186,"c":"<1an"},{"x":-0.177,"y":0.156,"c":"<1an"},{"x":0.018,"y":0.224,"c":"<1an"},{"x":0.051,"y":0.191,"c":"<1an"},{"x":0.073,"y":0.166,"c":"<1an"},{"x":0.198,"y":0.197,"c":"<1an"},{"x":0.237,"y":0.21,"c":"<1an"},{"x":0.284,"y":0.191,"c":"<1an"},{"x":0.311,"y":0.184,"c":"<1an"},{"x":0.361,"y":0.191,"c":"<1an"},{"x":0.138,"y":0.153,"c":"<1an"},{"x":0.184,"y":0.159,"c":"<1an"},{"x":0.237,"y":0.153,"c":"<1an"},{"x":0.289,"y":0.147,"c":"<1an"},{"x":0.388,"y":0.168,"c":"<1an"},
{"x":0.119,"y":0.119,"c":"<1an"},{"x":0.008,"y":0.121,"c":"<1an"},{"x":-0.026,"y":0.106,"c":"<1an"},{"x":0.081,"y":0.1,"c":"<1an"},{"x":-0.009,"y":0.073,"c":"<1an"},{"x":0.188,"y":0.093,"c":"<1an"},{"x":0.133,"y":0.053,"c":"<1an"},{"x":0.155,"y":0.014,"c":"<1an"},{"x":0.284,"y":0.027,"c":"<1an"},{"x":0.319,"y":0.053,"c":"<1an"},{"x":-0.19,"y":0.053,"c":"<1an"},{"x":-0.169,"y":0.041,"c":"<1an"},{"x":-0.129,"y":0.053,"c":"<1an"},{"x":-0.112,"y":0.033,"c":"<1an"},{"x":-0.099,"y":0.073,"c":"<1an"},{"x":-0.139,"y":0.1,"c":"<1an"},{"x":-0.264,"y":0.093,"c":"<1an"},{"x":-0.255,"y":-0.02,"c":"<1an"},{"x":-0.057,"y":0,"c":"<1an"},{"x":-0.164,"y":-0.04,"c":"<1an"},{"x":0.012,"y":-0.06,"c":"<1an"},{"x":0.073,"y":-0.047,"c":"<1an"},{"x":0.159,"y":-0.079,"c":"<1an"},{"x":0.198,"y":-0.099,"c":"<1an"},{"x":0.241,"y":-0.04,"c":"<1an"},{"x":0.293,"y":-0.047,"c":"<1an"},{"x":0.227,"y":-0.086,"c":"<1an"},{"x":0.254,"y":-0.119,"c":"<1an"},{"x":0.284,"y":-0.119,"c":"<1an"},{"x":0.289,"y":-0.152,"c":"<1an"},{"x":0.289,"y":-0.179,"c":"<1an"},{"x":0.344,"y":-0.119,"c":"<1an"},{"x":0.388,"y":-0.093,"c":"<1an"},{"x":-0.233,"y":-0.106,"c":"<1an"},{"x":-0.169,"y":-0.106,"c":"<1an"},{"x":-0.005,"y":-0.152,"c":"<1an"},{"x":0.159,"y":-0.179,"c":"<1an"},{"x":-0.164,"y":-0.199,"c":"<1an"},{"x":-0.259,"y":-0.224,"c":"<1an"},{"x":-0.229,"y":-0.244,"c":"<1an"},{"x":0.073,"y":-0.252,"c":"<1an"},{"x":0.198,"y":-0.252,"c":"<1an"},{"x":0.293,"y":-0.244,"c":"<1an"},{"x":0.314,"y":-0.219,"c":"<1an"},{"x":0.357,"y":-0.219,"c":"<1an"},{"x":0.383,"y":-0.224,"c":"<1an"},{"x":0.332,"y":-0.252,"c":"<1an"},{"x":0.344,"y":-0.257,"c":"<1an"},{"x":0.341,"y":-0.243,"c":"<1an"},{"x":-0.173,"y":-0.27,"c":"<1an"},{"x":-0.139,"y":-0.31,"c":"<1an"},{"x":-0.164,"y":-0.324,"c":"<1an"},{"x":-0.19,"y":-0.35,"c":"<1an"},{"x":-0.177,"y":-0.363,"c":"<1an"},{"x":-0.169,"y":-0.357,"c":"<1an"},{"x":0.207,"y":-0.33,"c":"<1an"},{"x":0.25,"y":-0.317,"c":"<1an"},{"x":0.301,"y":-0.324,"c":"<1an"},{"x":0.349,"y":-0.31,"c":"<1an"},{"x":0.374,"y":-0.297,"c":"<1an"},{"x":0.077,"y":-0.357,"c":"<1an"},{"x":0.151,"y":-0.35,"c":"<1an"},{"x":0.301,"y":-0.37,"c":"<1an"},{"x":0.271,"y":-0.39,"c":"<1an"},{"x":0.371,"y":-0.363,"c":"<1an"},{"x":0.384,"y":-0.355,"c":"<1an"},{"x":0.177,"y":-0.409,"c":"<1an"},{"x":-0.225,"y":-0.429,"c":"<1an"},{"x":-0.052,"y":-0.436,"c":"<1an"},{"x":-0.043,"y":-0.469,"c":"<1an"},{"x":0.371,"y":-0.462,"c":"<1an"},{"x":-0.182,"y":-0.508,"c":"<1an"},{"x":-0.255,"y":-0.522,"c":"<1an"},{"x":-0.152,"y":-0.535,"c":"<1an"},{"x":0.069,"y":-0.528,"c":"<1an"},{"x":0.194,"y":-0.575,"c":"<1an"},{"x":0.327,"y":-0.522,"c":"<1an"},{"x":0.336,"y":-0.528,"c":"<1an"},{"x":0.354,"y":-0.528,"c":"<1an"},{"x":0.383,"y":-0.528,"c":"<1an"},{"x":0.297,"y":-0.568,"c":"<1an"},{"x":0.323,"y":-0.588,"c":"<1an"},{"x":-0.082,"y":-0.621,"c":"<1an"},{"x":0.34,"y":-0.647,"c":"<1an"},{"x":0.366,"y":-0.634,"c":"<1an"},{"x":0.254,"y":-0.681,"c":"<1an"},{"x":0.094,"y":-0.727,"c":"<1an"},{"x":-0.292,"y":-0.273,"c":"<1an"},{"x":-0.296,"y":-0.302,"c":"<1an"},{"x":-0.292,"y":-0.343,"c":"<1an"},{"x":-0.281,"y":0.021,"c":"<1an"},{"x":-0.291,"y":0.062,"c":"<1an"},{"x":0.354,"y":0.033,"c":"<1an"},{"x":0.379,"y":0.027,"c":"<1an"},{"x":0.35,"y":-0.022,"c":"<1an"},{"x":0.365,"y":-0.02,"c":"<1an"},{"x":0.34,"y":0.005,"c":"<1an"},
{"x":0.409,"y":0.721,"c":"<1an"},{"x":0.47,"y":0.739,"c":"<1an"},{"x":0.543,"y":0.754,"c":"<1an"},{"x":0.72,"y":0.754,"c":"<1an"},{"x":0.75,"y":0.734,"c":"<1an"},{"x":0.773,"y":0.727,"c":"<1an"},{"x":0.782,"y":0.727,"c":"<1an"},{"x":0.758,"y":0.674,"c":"<1an"},{"x":0.569,"y":0.687,"c":"<1an"},{"x":0.404,"y":0.648,"c":"<1an"},{"x":0.474,"y":0.641,"c":"<1an"},{"x":0.465,"y":0.601,"c":"<1an"},{"x":0.607,"y":0.634,"c":"<1an"},{"x":0.642,"y":0.621,"c":"<1an"},{"x":0.539,"y":0.568,"c":"<1an"},{"x":0.517,"y":0.528,"c":"<1an"},{"x":0.392,"y":0.528,"c":"<1an"},{"x":0.711,"y":0.548,"c":"<1an"},{"x":0.763,"y":0.535,"c":"<1an"},{"x":0.793,"y":0.528,"c":"<1an"},{"x":0.564,"y":0.489,"c":"<1an"},{"x":0.582,"y":0.489,"c":"<1an"},{"x":0.599,"y":0.482,"c":"<1an"},{"x":0.758,"y":0.489,"c":"<1an"},{"x":0.703,"y":0.436,"c":"<1an"},{"x":0.388,"y":0.442,"c":"<1an"},{"x":0.388,"y":0.409,"c":"<1an"},{"x":0.448,"y":0.416,"c":"<1an"},{"x":0.513,"y":0.403,"c":"<1an"},{"x":0.599,"y":0.416,"c":"<1an"},{"x":0.56,"y":0.39,"c":"<1an"},{"x":0.84,"y":0.383,"c":"<1an"},{"x":0.832,"y":0.37,"c":"<1an"},{"x":0.836,"y":0.357,"c":"<1an"},{"x":0.802,"y":0.376,"c":"<1an"},{"x":0.59,"y":0.357,"c":"<1an"},{"x":0.444,"y":0.35,"c":"<1an"},{"x":0.487,"y":0.337,"c":"<1an"},{"x":0.504,"y":0.31,"c":"<1an"},{"x":0.539,"y":0.324,"c":"<1an"},{"x":0.556,"y":0.324,"c":"<1an"},{"x":0.551,"y":0.304,"c":"<1an"},{"x":0.612,"y":0.33,"c":"<1an"},{"x":0.62,"y":0.33,"c":"<1an"},{"x":0.655,"y":0.31,"c":"<1an"},{"x":0.823,"y":0.324,"c":"<1an"},{"x":0.776,"y":0.297,"c":"<1an"},{"x":0.771,"y":0.29,"c":"<1an"},{"x":0.771,"y":0.25,"c":"<1an"},{"x":0.664,"y":0.27,"c":"<1an"},{"x":0.65,"y":0.264,"c":"<1an"},{"x":0.698,"y":0.232,"c":"<1an"},{"x":0.827,"y":0.197,"c":"<1an"},{"x":0.56,"y":0.264,"c":"<1an"},{"x":0.574,"y":0.25,"c":"<1an"},{"x":0.59,"y":0.239,"c":"<1an"},{"x":0.617,"y":0.25,"c":"<1an"},{"x":0.604,"y":0.227,"c":"<1an"},{"x":0.62,"y":0.217,"c":"<1an"},{"x":0.53,"y":0.257,"c":"<1an"},{"x":0.47,"y":0.217,"c":"<1an"},{"x":0.444,"y":0.232,"c":"<1an"},{"x":0.422,"y":0.212,"c":"<1an"},{"x":0.4,"y":0.217,"c":"<1an"},{"x":0.38,"y":0.237,"c":"<1an"},{"x":0.397,"y":0.172,"c":"<1an"},{"x":0.534,"y":0.186,"c":"<1an"},{"x":0.517,"y":0.203,"c":"<1an"},{"x":0.564,"y":0.179,"c":"<1an"},{"x":0.582,"y":0.166,"c":"<1an"},{"x":0.604,"y":0.159,"c":"<1an"},{"x":0.664,"y":0.179,"c":"<1an"},{"x":0.523,"y":0.162,"c":"<1an"},{"x":0.542,"y":0.156,"c":"<1an"},{"x":0.629,"y":0.147,"c":"<1an"},{"x":0.652,"y":0.145,"c":"<1an"},{"x":0.669,"y":0.15,"c":"<1an"},{"x":0.746,"y":0.145,"c":"<1an"},{"x":0.788,"y":0.147,"c":"<1an"},{"x":0.807,"y":0.147,"c":"<1an"},{"x":0.834,"y":0.131,"c":"<1an"},
{"x":0.779,"y":0.136,"c":"<1an"},{"x":0.815,"y":0.135,"c":"<1an"},{"x":0.88,"y":0.107,"c":"<1an"},{"x":0.884,"y":0.115,"c":"<1an"},{"x":0.9,"y":0.04,"c":"<1an"},{"x":0.44,"y":0.139,"c":"<1an"},{"x":0.465,"y":0.133,"c":"<1an"},{"x":0.457,"y":0.115,"c":"<1an"},{"x":0.607,"y":0.121,"c":"<1an"},{"x":0.62,"y":0.1,"c":"<1an"},{"x":0.63,"y":0.145,"c":"<1an"},{"x":0.65,"y":0.139,"c":"<1an"},{"x":0.52,"y":0.121,"c":"<1an"},{"x":0.504,"y":0.1,"c":"<1an"},{"x":0.523,"y":0.074,"c":"<1an"},{"x":0.527,"y":0.051,"c":"<1an"},{"x":0.527,"y":0.027,"c":"<1an"},{"x":0.534,"y":0.015,"c":"<1an"},{"x":0.554,"y":0.004,"c":"<1an"},{"x":0.569,"y":0.066,"c":"<1an"},{"x":0.612,"y":0.04,"c":"<1an"},{"x":0.634,"y":0.053,"c":"<1an"},{"x":0.444,"y":0.053,"c":"<1an"},{"x":0.465,"y":0.053,"c":"<1an"},{"x":0.488,"y":0.04,"c":"<1an"},{"x":0.496,"y":0.057,"c":"<1an"},{"x":0.669,"y":0.066,"c":"<1an"},{"x":0.687,"y":0.066,"c":"<1an"},{"x":0.703,"y":0.066,"c":"<1an"},{"x":0.664,"y":0.027,"c":"<1an"},{"x":0.677,"y":0.027,"c":"<1an"},{"x":0.657,"y":0.009,"c":"<1an"},{"x":0.72,"y":0.013,"c":"<1an"},{"x":0.75,"y":0.013,"c":"<1an"},{"x":0.72,"y":-0.02,"c":"<1an"},{"x":0.758,"y":-0.02,"c":"<1an"},{"x":0.788,"y":-0.046,"c":"<1an"},{"x":0.874,"y":-0.027,"c":"<1an"},{"x":0.983,"y":-0.099,"c":"<1an"},{"x":0.483,"y":-0.02,"c":"<1an"},{"x":0.38,"y":0.027,"c":"<1an"},{"x":0.4,"y":0.006,"c":"<1an"},{"x":0.384,"y":-0.008,"c":"<1an"},{"x":0.373,"y":-0.026,"c":"<1an"},{"x":0.584,"y":-0.002,"c":"<1an"},{"x":0.592,"y":-0.026,"c":"<1an"},{"x":0.607,"y":-0.032,"c":"<1an"},{"x":0.623,"y":-0.026,"c":"<1an"},{"x":0.638,"y":-0.02,"c":"<1an"},{"x":0.65,"y":-0.008,"c":"<1an"},{"x":0.646,"y":-0.038,"c":"<1an"},{"x":0.634,"y":-0.061,"c":"<1an"},{"x":0.62,"y":-0.067,"c":"<1an"},{"x":0.509,"y":-0.047,"c":"<1an"},{"x":0.527,"y":-0.04,"c":"<1an"},{"x":0.534,"y":-0.053,"c":"<1an"},{"x":0.539,"y":-0.079,"c":"<1an"},{"x":0.556,"y":-0.079,"c":"<1an"},{"x":0.587,"y":-0.086,"c":"<1an"},{"x":0.59,"y":-0.119,"c":"<1an"},{"x":0.577,"y":-0.132,"c":"<1an"},{"x":0.617,"y":-0.106,"c":"<1an"},{"x":0.664,"y":-0.099,"c":"<1an"},{"x":0.758,"y":-0.06,"c":"<1an"},{"x":0.767,"y":-0.066,"c":"<1an"},{"x":0.746,"y":-0.073,"c":"<1an"},{"x":0.784,"y":-0.099,"c":"<1an"},{"x":0.733,"y":-0.119,"c":"<1an"},{"x":0.724,"y":-0.132,"c":"<1an"},{"x":0.823,"y":-0.132,"c":"<1an"},{"x":0.888,"y":-0.126,"c":"<1an"},{"x":0.897,"y":-0.132,"c":"<1an"},{"x":0.84,"y":-0.159,"c":"<1an"},{"x":0.753,"y":-0.186,"c":"<1an"},{"x":0.629,"y":-0.159,"c":"<1an"},{"x":0.659,"y":-0.172,"c":"<1an"},{"x":0.504,"y":-0.146,"c":"<1an"},{"x":0.526,"y":-0.146,"c":"<1an"},{"x":0.474,"y":-0.166,"c":"<1an"},{"x":0.48,"y":-0.166,"c":"<1an"},{"x":0.414,"y":-0.106,"c":"<1an"},{"x":0.388,"y":-0.093,"c":"<1an"},{"x":0.47,"y":-0.112,"c":"<1an"},{"x":0.457,"y":-0.212,"c":"<1an"},{"x":0.496,"y":-0.219,"c":"<1an"},{"x":0.384,"y":-0.224,"c":"<1an"},{"x":0.418,"y":-0.272,"c":"<1an"},{"x":0.478,"y":-0.272,"c":"<1an"},{"x":0.534,"y":-0.237,"c":"<1an"},{"x":0.547,"y":-0.252,"c":"<1an"},{"x":0.59,"y":-0.224,"c":"<1an"},{"x":0.582,"y":-0.252,"c":"<1an"},{"x":0.637,"y":-0.224,"c":"<1an"},{"x":0.616,"y":-0.277,"c":"<1an"},{"x":0.686,"y":-0.237,"c":"<1an"},{"x":0.707,"y":-0.212,"c":"<1an"},{"x":0.707,"y":-0.237,"c":"<1an"},{"x":0.733,"y":-0.224,"c":"<1an"},{"x":0.788,"y":-0.237,"c":"<1an"},{"x":0.846,"y":-0.192,"c":"<1an"},{"x":0.857,"y":-0.192,"c":"<1an"},{"x":0.872,"y":-0.199,"c":"<1an"},{"x":0.853,"y":-0.252,"c":"<1an"},{"x":0.888,"y":-0.252,"c":"<1an"},{"x":0.906,"y":-0.272,"c":"<1an"},{"x":0.802,"y":-0.284,"c":"<1an"},{"x":0.711,"y":-0.297,"c":"<1an"},{"x":0.728,"y":-0.297,"c":"<1an"},{"x":0.746,"y":-0.317,"c":"<1an"},{"x":0.741,"y":-0.343,"c":"<1an"},{"x":0.72,"y":-0.343,"c":"<1an"},{"x":0.62,"y":-0.33,"c":"<1an"},{"x":0.637,"y":-0.343,"c":"<1an"},{"x":0.659,"y":-0.35,"c":"<1an"},{"x":0.68,"y":-0.376,"c":"<1an"},{"x":0.771,"y":-0.376,"c":"<1an"},{"x":0.836,"y":-0.357,"c":"<1an"},{"x":0.846,"y":-0.363,"c":"<1an"},{"x":0.931,"y":-0.33,"c":"<1an"},{"x":0.88,"y":-0.436,"c":"<1an"},{"x":0.375,"y":-0.297,"c":"<1an"},{"x":0.521,"y":-0.317,"c":"<1an"},{"x":0.521,"y":-0.343,"c":"<1an"},{"x":0.56,"y":-0.317,"c":"<1an"},{"x":0.457,"y":-0.35,"c":"<1an"},{"x":0.47,"y":-0.35,"c":"<1an"},{"x":0.539,"y":-0.37,"c":"<1an"},{"x":0.496,"y":-0.369,"c":"<1an"},{"x":0.513,"y":-0.384,"c":"<1an"},{"x":0.496,"y":-0.409,"c":"<1an"},{"x":0.513,"y":-0.422,"c":"<1an"},{"x":0.388,"y":-0.357,"c":"<1an"},{"x":0.422,"y":-0.39,"c":"<1an"},{"x":0.41,"y":-0.443,"c":"<1an"},{"x":0.373,"y":-0.462,"c":"<1an"},{"x":0.677,"y":-0.436,"c":"<1an"},{"x":0.72,"y":-0.443,"c":"<1an"},{"x":0.629,"y":-0.469,"c":"<1an"},{"x":0.629,"y":-0.509,"c":"<1an"},{"x":0.716,"y":-0.515,"c":"<1an"},{"x":0.672,"y":-0.548,"c":"<1an"},{"x":0.491,"y":-0.482,"c":"<1an"},{"x":0.53,"y":-0.482,"c":"<1an"},{"x":0.543,"y":-0.489,"c":"<1an"},{"x":0.556,"y":-0.495,"c":"<1an"},{"x":0.422,"y":-0.495,"c":"<1an"},{"x":0.444,"y":-0.515,"c":"<1an"},{"x":0.453,"y":-0.515,"c":"<1an"},{"x":0.384,"y":-0.528,"c":"<1an"},{"x":0.491,"y":-0.542,"c":"<1an"},{"x":0.431,"y":-0.561,"c":"<1an"},{"x":0.513,"y":-0.582,"c":"<1an"},{"x":0.521,"y":-0.601,"c":"<1an"},{"x":0.444,"y":-0.608,"c":"<1an"},{"x":0.637,"y":-0.634,"c":"<1an"},{"x":0.369,"y":-0.634,"c":"<1an"},
{"x":-0.492,"y":0.469,"c":"cat.exp.NA"},{"x":-0.362,"y":0.33,"c":"cat.exp.NA"},{"x":-0.44,"y":-0.27,"c":"cat.exp.NA"},{"x":0.211,"y":0.832,"c":"cat.exp.NA"},{"x":0.254,"y":0.759,"c":"cat.exp.NA"},{"x":0.124,"y":0.654,"c":"cat.exp.NA"},{"x":0.008,"y":0.634,"c":"cat.exp.NA"},{"x":-0.152,"y":0.475,"c":"cat.exp.NA"},{"x":-0.079,"y":0.31,"c":"cat.exp.NA"},{"x":0.108,"y":0.303,"c":"cat.exp.NA"},{"x":-0.185,"y":0.244,"c":"cat.exp.NA"},{"x":-0.132,"y":-0.088,"c":"cat.exp.NA"},{"x":0.616,"y":1.056,"c":"cat.exp.NA"},{"x":0.961,"y":0.588,"c":"cat.exp.NA"},{"x":0.534,"y":0.554,"c":"cat.exp.NA"},{"x":0.594,"y":0.296,"c":"cat.exp.NA"},{"x":0.534,"y":0.244,"c":"cat.exp.NA"},{"x":0.461,"y":-0.396,"c":"cat.exp.NA"},{"x":0.509,"y":0.057,"c":"cat.exp.NA"}
]},
"mark":{"type":"point","filled":true,"opacity":1,"size":85},
"encoding":{"x":{"field":"x","type":"quantitative","scale":{"domain":[-0.955,1.077],"nice":false,"zero":false},
"axis":{"title":"Dim1 (10.7%)","values":[-0.75,-0.5,-0.25,0,0.25,0.5,0.75,1],"labelExpr":"abs(datum.value*2-round(datum.value*2))<0.001?replace(format(datum.value,'.1f'),'−','-'):''","labelFont":"Liberation Sans","labelFontSize":22,"labelColor":"#4d4d4d","labelPadding":7,"titleFont":"Liberation Sans","titleFontSize":27.5,"titleFontWeight":"normal","titleColor":"#000000","titlePadding":7,"domain":false,"ticks":true,"tickSize":7,"tickWidth":1.5,"tickColor":"#333333","tickOpacity":{"condition":{"test":"abs(datum.value*2-round(datum.value*2))<0.001","value":1},"value":0},"gridColor":"#eeeeee","gridWidth":1.6}},
"y":{"field":"y","type":"quantitative","scale":{"domain":[-0.903,1.17],"nice":false,"zero":false},
"axis":{"title":"Dim2 (6.4%)","values":[-0.75,-0.5,-0.25,0,0.25,0.5,0.75,1],"labelExpr":"abs(datum.value*2-round(datum.value*2))<0.001?replace(format(datum.value,'.1f'),'−','-'):''","labelFont":"Liberation Sans","labelFontSize":21,"labelColor":"#4d4d4d","labelPadding":7,"titleFont":"Liberation Sans","titleFontSize":27,"titleFontWeight":"normal","titleColor":"#000000","titlePadding":4,"domain":false,"ticks":true,"tickSize":7,"tickWidth":1.5,"tickColor":"#333333","tickOpacity":{"condition":{"test":"abs(datum.value*2-round(datum.value*2))<0.001","value":1},"value":0},"gridColor":"#eeeeee","gridWidth":1.6}},
"color":{"field":"c","type":"nominal","sort":["<1an",">5ans","1a5ans","cat.exp.NA"],"scale":{"range":["#00AFBB","#E7B800","#CC5500","#6B8E23"]},
"legend":{"title":null,"orient":"none","legendX":921,"legendY":243,"symbolType":"circle","symbolSize":200,"symbolOffset":13,"rowPadding":21,"labelFont":"Liberation Sans","labelFontSize":22,"labelColor":"#000000","labelOffset":22,"zindex":2}}}},
{"data":{"values":[
{"x":-0.052,"y":0.356,"y2":0.356,"c":"cat.exp.NA"},{"x":-0.046,"y":0.403,"y2":0.303,"c":"cat.exp.NA"},{"x":-0.019,"y":0.462,"y2":0.254,"c":"cat.exp.NA"},{"x":0.015,"y":0.509,"y2":0.221,"c":"cat.exp.NA"},{"x":0.061,"y":0.55,"y2":0.197,"c":"cat.exp.NA"},{"x":0.108,"y":0.574,"y2":0.189,"c":"cat.exp.NA"},{"x":0.154,"y":0.595,"y2":0.197,"c":"cat.exp.NA"},{"x":0.2,"y":0.6,"y2":0.215,"c":"cat.exp.NA"},{"x":0.246,"y":0.601,"y2":0.239,"c":"cat.exp.NA"},{"x":0.3,"y":0.583,"y2":0.286,"c":"cat.exp.NA"},{"x":0.338,"y":0.55,"y2":0.333,"c":"cat.exp.NA"},{"x":0.365,"y":0.511,"y2":0.38,"c":"cat.exp.NA"},{"x":0.375,"y":0.497,"y2":0.409,"c":"cat.exp.NA"},{"x":0.381,"y":0.45,"y2":0.45,"c":"cat.exp.NA"},
{"x":0.318,"y":-0.005,"y2":-0.005,"c":"<1an"},{"x":0.327,"y":0.012,"y2":-0.025,"c":"<1an"},{"x":0.345,"y":0.025,"y2":-0.038,"c":"<1an"},{"x":0.365,"y":0.028,"y2":-0.046,"c":"<1an"},{"x":0.385,"y":0.02,"y2":-0.04,"c":"<1an"},{"x":0.397,"y":-0.005,"y2":-0.005,"c":"<1an"},
{"x":-0.447,"y":0.1,"y2":0.1,"c":">5ans"},{"x":-0.44,"y":0.13,"y2":0.07,"c":">5ans"},{"x":-0.425,"y":0.147,"y2":0.058,"c":">5ans"},{"x":-0.41,"y":0.135,"y2":0.07,"c":">5ans"},{"x":-0.404,"y":0.1,"y2":0.1,"c":">5ans"},
{"x":-0.169,"y":-0.12,"y2":-0.12,"c":"1a5ans"},{"x":-0.163,"y":-0.096,"y2":-0.14,"c":"1a5ans"},{"x":-0.15,"y":-0.076,"y2":-0.155,"c":"1a5ans"},{"x":-0.123,"y":-0.073,"y2":-0.163,"c":"1a5ans"},{"x":-0.096,"y":-0.072,"y2":-0.155,"c":"1a5ans"},{"x":-0.073,"y":-0.073,"y2":-0.135,"c":"1a5ans"},{"x":-0.065,"y":-0.093,"y2":-0.12,"c":"1a5ans"},{"x":-0.063,"y":-0.106,"y2":-0.106,"c":"1a5ans"}]},
"mark":{"type":"area","orient":"vertical","fillOpacity":0.1,"strokeWidth":1.4,"interpolate":"linear"},
"encoding":{"x":{"field":"x","type":"quantitative"},"y":{"field":"y","type":"quantitative"},"y2":{"field":"y2"},
"fill":{"field":"c","type":"nominal","scale":{"domain":["<1an",">5ans","1a5ans","cat.exp.NA"],"range":["#00AFBB","#E7B800","#CC5500","#6B8E23"]},
"legend":{"title":"cat.exp","orient":"none","legendX":922,"legendY":190,"symbolType":"square","symbolSize":1600,"symbolOffset":0,"rowPadding":-5,"labelExpr":"''","titleFont":"Liberation Sans","titleFontSize":27,"titleFontWeight":"normal","titleColor":"#000000","titlePadding":13,"zindex":1,"encode":{"symbols":{"update":{"fillOpacity":{"value":0.1},"strokeOpacity":{"value":1},"strokeWidth":{"value":1.8}}}}}},
"stroke":{"field":"c","type":"nominal","scale":{"domain":["<1an",">5ans","1a5ans","cat.exp.NA"],"range":["#00AFBB","#E7B800","#CC5500","#6B8E23"]},"legend":{"title":"cat.exp","orient":"none","legendX":922,"legendY":190,"symbolType":"square","symbolSize":1600,"symbolOffset":0,"rowPadding":-5,"labelExpr":"''","titleFont":"Liberation Sans","titleFontSize":27,"titleFontWeight":"normal","titleColor":"#000000","titlePadding":13,"zindex":1,"encode":{"symbols":{"update":{"fillOpacity":{"value":0.1},"strokeOpacity":{"value":1},"strokeWidth":{"value":1.8}}}}}}}},
{"data":{"values":[{"x":0.356,"y":-0.006,"c":"<1an"},{"x":-0.427,"y":0.103,"c":">5ans"},{"x":-0.117,"y":-0.119,"c":"1a5ans"},{"x":0.164,"y":0.395,"c":"cat.exp.NA"}]},"mark":{"type":"point","filled":true,"opacity":1,"size":190},"encoding":{"x":{"field":"x","type":"quantitative"},"y":{"field":"y","type":"quantitative"},"color":{"field":"c","type":"nominal","sort":["<1an",">5ans","1a5ans","cat.exp.NA"]}}},
{"data":{"values":[{"x":0}]},"mark":{"type":"rule","color":"#000000","strokeDash":[8,7],"strokeWidth":1.5},"encoding":{"x":{"field":"x","type":"quantitative"}}},
{"data":{"values":[{"y":0}]},"mark":{"type":"rule","color":"#000000","strokeDash":[8,7],"strokeWidth":1.5},"encoding":{"y":{"field":"y","type":"quantitative"}}}
]}
